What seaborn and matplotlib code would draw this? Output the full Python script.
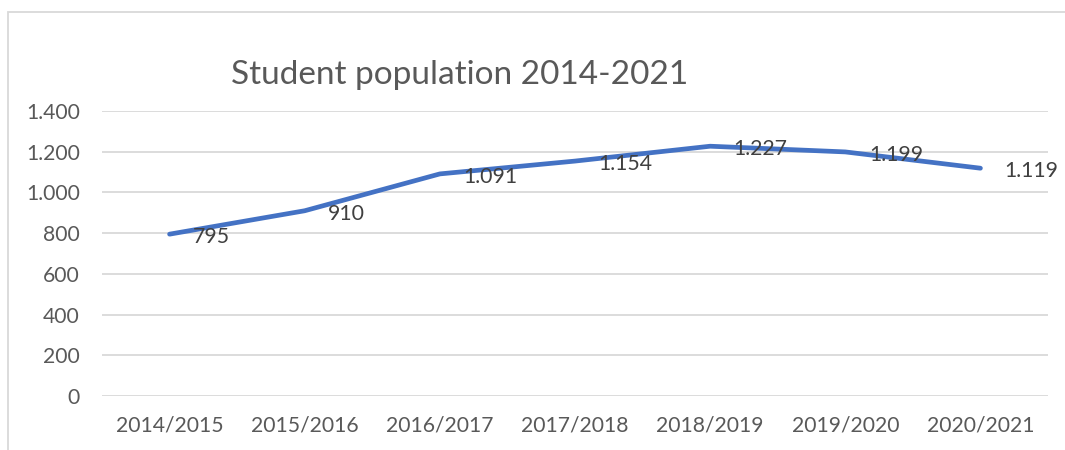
import seaborn as sns
import matplotlib.pyplot as plt
import pandas as pd
from matplotlib.ticker import FuncFormatter
from matplotlib.patches import Rectangle

years = ['2014/2015', '2015/2016', '2016/2017', '2017/2018',
         '2018/2019', '2019/2020', '2020/2021']
students = [795, 910, 1091, 1154, 1227, 1199, 1119]

df = pd.DataFrame({'year': years, 'students': students})


def dots(v):
    return f'{v:,.0f}'.replace(',', '.')


sns.set_style('white')
plt.rcParams['font.family'] = ['Lato', 'DejaVu Sans']

fig = plt.figure(figsize=(10.65, 4.5), dpi=100)
ax = fig.add_axes([102/1065, 1-396/450, (1048-102)/1065, (396-111)/450])

sns.lineplot(data=df, x='year', y='students', ax=ax, color='#4472C4',
             linewidth=3.4, sort=False, solid_capstyle='round')

for i, v in enumerate(students):
    ax.annotate(dots(v), (i, v), xytext=(17, -2), textcoords='offset points',
                ha='left', va='center', fontsize=15.3, color='#404040')

ax.set_xlim(-0.5, len(years) - 0.5)
ax.set_ylim(0, 1400)
ax.set_yticks(range(0, 1401, 200))
ax.yaxis.set_major_formatter(FuncFormatter(lambda v, p: dots(v)))
ax.grid(axis='y', color='#d9d9d9', linewidth=1.3)
ax.grid(axis='x', visible=False)
sns.despine(ax=ax, left=True, bottom=True)
ax.tick_params(axis='both', length=0, labelsize=15.2, colors='#595959')
ax.tick_params(axis='x', pad=14)
ax.tick_params(axis='y', pad=16)
ax.set_xlabel('')
ax.set_ylabel('')

fig.text(460/1065, 1-75/450, 'Student population 2014-2021', ha='center',
         va='center', fontsize=24, color='#595959')

# chart border
fig.patches.append(Rectangle((8/1065, -0.1), 1.2, 1-12/450+0.1,
                             transform=fig.transFigure, fill=False,
                             edgecolor='#d9d9d9', linewidth=1.3))

fig.savefig('out.png', dpi=100)
